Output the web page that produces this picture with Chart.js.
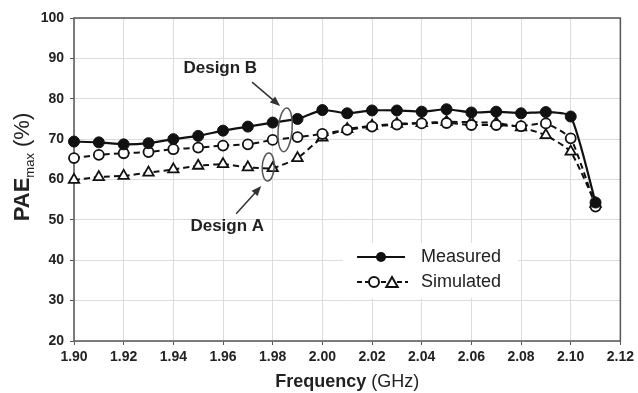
<!DOCTYPE html>
<html>
<head>
<meta charset="utf-8">
<script src="https://cdn.jsdelivr.net/npm/chart.js@4/dist/chart.umd.min.js"></script>
<style>
  html, body { margin: 0; padding: 0; background: #fff; }
</style>
</head>
<body>
<canvas id="chart1" width="638" height="393"></canvas>
<script>
  // dados
  var freq = [1.90, 1.91, 1.92, 1.93, 1.94, 1.95, 1.96, 1.97, 1.98, 1.99, 2.00,
              2.01, 2.02, 2.03, 2.04, 2.05, 2.06, 2.07, 2.08, 2.09, 2.10, 2.11]
  var measured = [69.4, 69.2, 68.7, 69.0, 70.0, 70.8, 72.1, 73.1, 74.1, 75.0, 77.2,
                  76.4, 77.1, 77.1, 76.8, 77.4, 76.6, 76.8, 76.4, 76.7, 75.6, 54.3]
  var simulatedB = [65.3, 66.1, 66.5, 66.8, 67.5, 67.9, 68.4, 68.7, 69.8, 70.5, 71.3,
                    72.3, 73.1, 73.6, 73.9, 74.0, 73.5, 73.5, 73.2, 73.9, 70.2, 53.3]
  var simulatedA = [59.9, 60.6, 60.9, 61.7, 62.5, 63.4, 63.8, 63.0, 62.8, 65.3, 70.4,
                    72.5, 73.3, 73.8, 74.0, 74.3, 74.2, 74.0, 72.9, 71.0, 66.9, 54.0]
  var freqTicks = [1.90, 1.92, 1.94, 1.96, 1.98, 2.00, 2.02, 2.04, 2.06, 2.08, 2.10, 2.12]
  var paeTicks = [20, 30, 40, 50, 60, 70, 80, 90, 100]

  var fonte = "'Liberation Sans', Arial, sans-serif"

  function pontos(valores) {
    return freq.map(function (f, i) { return { x: f, y: valores[i] } })
  }

  function seta(ctx, x1, y1, x2, y2) {
    var ang = Math.atan2(y2 - y1, x2 - x1)
    ctx.beginPath()
    ctx.moveTo(x1, y1)
    ctx.lineTo(x2 - 6 * Math.cos(ang), y2 - 6 * Math.sin(ang))
    ctx.stroke()
    ctx.beginPath()
    ctx.moveTo(x2, y2)
    ctx.lineTo(x2 - 10 * Math.cos(ang) + 4 * Math.sin(ang), y2 - 10 * Math.sin(ang) - 4 * Math.cos(ang))
    ctx.lineTo(x2 - 10 * Math.cos(ang) - 4 * Math.sin(ang), y2 - 10 * Math.sin(ang) + 4 * Math.cos(ang))
    ctx.closePath()
    ctx.fill()
  }

  function triangulo(ctx, x, y, r) {
    ctx.beginPath()
    ctx.moveTo(x, y - r)
    ctx.lineTo(x + r * 0.95, y + r * 0.65)
    ctx.lineTo(x - r * 0.95, y + r * 0.65)
    ctx.closePath()
    ctx.fill()
    ctx.stroke()
  }

  // moldura do grafico
  const moldura = {
    id: 'moldura',
    beforeDatasetsDraw(chart) {
      var ctx = chart.ctx
      var a = chart.chartArea
      ctx.save()
      ctx.strokeStyle = '#555'
      ctx.lineWidth = 1.5
      ctx.strokeRect(a.left, a.top, a.right - a.left, a.bottom - a.top)
      ctx.restore()
    }
  }

  // legenda, anotacoes e titulos dos eixos
  const extras = {
    id: 'extras',
    afterDraw(chart) {
      var ctx = chart.ctx
      var a = chart.chartArea
      var sx = chart.scales.x
      var sy = chart.scales.y
      ctx.save()

      // legenda
      var lx = a.left + 269
      var ly = a.top + 225
      ctx.fillStyle = '#fff'
      ctx.fillRect(lx, ly, 175, 55)
      ctx.strokeStyle = '#111'
      ctx.fillStyle = '#111'
      ctx.lineWidth = 2
      ctx.beginPath()
      ctx.moveTo(lx + 14, ly + 14)
      ctx.lineTo(lx + 62, ly + 14)
      ctx.stroke()
      ctx.beginPath()
      ctx.arc(lx + 38, ly + 14, 5, 0, Math.PI * 2)
      ctx.fill()

      ctx.setLineDash([5, 3])
      ctx.beginPath()
      ctx.moveTo(lx + 14, ly + 39)
      ctx.lineTo(lx + 65, ly + 39)
      ctx.stroke()
      ctx.setLineDash([])
      ctx.fillStyle = '#fff'
      ctx.beginPath()
      ctx.arc(lx + 31, ly + 39, 5, 0, Math.PI * 2)
      ctx.fill()
      ctx.stroke()
      triangulo(ctx, lx + 49, ly + 40, 6)

      ctx.fillStyle = '#222'
      ctx.font = '18px ' + fonte
      ctx.textBaseline = 'middle'
      ctx.textAlign = 'left'
      ctx.fillText('Measured', lx + 78, ly + 14)
      ctx.fillText('Simulated', lx + 78, ly + 39)

      // anotacoes Design B / Design A
      ctx.font = 'bold 17px ' + fonte
      ctx.textAlign = 'center'
      ctx.fillStyle = '#222'
      ctx.fillText('Design B', sx.getPixelForValue(1.9589), sy.getPixelForValue(87.6))
      ctx.fillText('Design A', sx.getPixelForValue(1.9617), sy.getPixelForValue(48.5))

      ctx.strokeStyle = '#333'
      ctx.fillStyle = '#333'
      ctx.lineWidth = 1.5
      seta(ctx, sx.getPixelForValue(1.9717), sy.getPixelForValue(84.1),
                sx.getPixelForValue(1.9830), sy.getPixelForValue(78.2))
      seta(ctx, sx.getPixelForValue(1.9653), sy.getPixelForValue(51.5),
                sx.getPixelForValue(1.9754), sy.getPixelForValue(58.4))

      ctx.strokeStyle = '#555'
      ctx.beginPath()
      ctx.ellipse(sx.getPixelForValue(1.985), sy.getPixelForValue(72.3), 7, 22, 0.08, 0, Math.PI * 2)
      ctx.stroke()
      ctx.beginPath()
      ctx.ellipse(sx.getPixelForValue(1.9782), sy.getPixelForValue(63.1), 6, 14, 0.05, 0, Math.PI * 2)
      ctx.stroke()

      // titulo eixo x
      ctx.fillStyle = '#222'
      ctx.textBaseline = 'middle'
      ctx.textAlign = 'left'
      var t1 = 'Frequency', t2 = ' (GHz)'
      ctx.font = 'bold 18px ' + fonte
      var w1 = ctx.measureText(t1).width
      ctx.font = '18px ' + fonte
      var w2 = ctx.measureText(t2).width
      var xc = (a.left + a.right) / 2
      var x0 = xc - (w1 + w2) / 2
      ctx.font = 'bold 18px ' + fonte
      ctx.fillText(t1, x0, 382)
      ctx.font = '18px ' + fonte
      ctx.fillText(t2, x0 + w1, 382)

      // titulo eixo y
      ctx.translate(23, 167)
      ctx.rotate(-Math.PI / 2)
      ctx.font = 'bold 22px ' + fonte
      var p1 = ctx.measureText('PAE').width
      ctx.font = '13px ' + fonte
      var p2 = ctx.measureText('max').width
      ctx.font = '22px ' + fonte
      var p3 = ctx.measureText(' (%)').width
      var s = -(p1 + p2 + p3) / 2
      ctx.font = 'bold 22px ' + fonte
      ctx.fillText('PAE', s, 0)
      ctx.font = '13px ' + fonte
      ctx.fillText('max', s + p1, 7)
      ctx.font = '22px ' + fonte
      ctx.fillText(' (%)', s + p1 + p2, 0)

      ctx.restore()
    }
  }

  const data = {
    datasets: [{
      label: 'Measured',
      data: pontos(measured),
      borderColor: '#111',
      backgroundColor: '#111',
      borderWidth: 2.2,
      pointStyle: 'circle',
      pointRadius: 5.5,
      pointBackgroundColor: '#111',
      pointBorderColor: '#111',
      pointBorderWidth: 1,
      tension: 0.2,
      clip: false
    },
    {
      label: 'Simulated B',
      data: pontos(simulatedB),
      borderColor: '#111',
      borderWidth: 2,
      borderDash: [6, 4],
      pointStyle: 'circle',
      pointRadius: 5,
      pointBackgroundColor: '#fff',
      pointBorderColor: '#111',
      pointBorderWidth: 1.8,
      tension: 0.15,
      clip: false
    },
    {
      label: 'Simulated A',
      data: pontos(simulatedA),
      borderColor: '#111',
      borderWidth: 2,
      borderDash: [6, 4],
      pointStyle: 'triangle',
      pointRadius: 6,
      pointBackgroundColor: '#fff',
      pointBorderColor: '#111',
      pointBorderWidth: 1.8,
      tension: 0.15,
      clip: false
    }]
  }

  const config = {
    type: 'line',
    data,
    options: {
      responsive: false,
      animation: false,
      devicePixelRatio: 1,
      layout: { padding: { top: 18, right: 15, left: 0, bottom: 0 } },
      plugins: { legend: { display: false }, tooltip: { enabled: false } },
      scales: {
        x: {
          type: 'linear',
          min: 1.90,
          max: 2.12,
          afterBuildTicks: function (scale) {
            scale.ticks = freqTicks.map(function (v) { return { value: v } })
          },
          afterFit: function (scale) { scale.height = 52 },
          ticks: {
            autoSkip: false,
            maxRotation: 0,
            padding: 4,
            color: '#222',
            font: { family: fonte, size: 14, weight: 'bold' },
            callback: function (v) { return Number(v).toFixed(2) }
          },
          grid: { color: '#dcdcdc', tickColor: '#555', tickLength: 4, lineWidth: 1 },
          border: { display: false }
        },
        y: {
          min: 20,
          max: 100,
          afterBuildTicks: function (scale) {
            scale.ticks = paeTicks.map(function (v) { return { value: v } })
          },
          afterFit: function (scale) { scale.width = 74 },
          ticks: {
            padding: 6,
            color: '#222',
            font: { family: fonte, size: 14, weight: 'bold' }
          },
          grid: { color: '#dcdcdc', tickColor: '#555', tickLength: 4, lineWidth: 1 },
          border: { display: false }
        }
      }
    },
    plugins: [moldura, extras]
  }

  const myChart = new Chart(document.getElementById('chart1'), config)
</script>
</body>
</html>
